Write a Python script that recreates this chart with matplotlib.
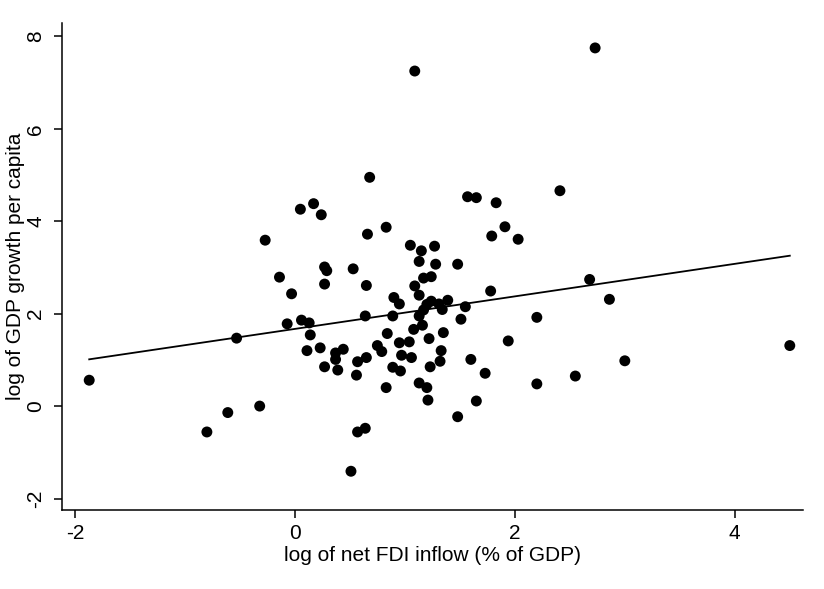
import numpy as np
import matplotlib
matplotlib.use("Agg")
import matplotlib.pyplot as plt

plt.rcParams['font.family'] = ['Liberation Sans', 'DejaVu Sans']
plt.rcParams['axes.unicode_minus'] = False

# log of net FDI inflow (% of GDP)
fdi = [-1.87, -0.80, -0.61, -0.32, -0.53, -0.07, 0.06, 0.13, 0.14, -0.03,
       -0.14, -0.27, 0.05, 0.17, 0.24, 0.68, 0.66, 0.27, 0.29, 0.53,
       0.27, 0.65, 0.64, 0.11, 0.23, 0.37, 0.44, 0.37, 0.27, 0.39,
       0.57, 0.65, 0.56, 0.75, 0.57, 0.64, 0.51, 1.09, 2.73, 2.41,
       1.57, 1.65, 1.83, 0.83, 1.91, 1.79, 2.03, 1.05, 1.15, 1.27,
       1.13, 1.28, 1.48, 1.17, 1.24, 1.09, 1.13, 0.90, 0.95, 1.78,
       1.24, 1.31, 1.39, 1.55, 0.89, 1.13, 1.17, 1.34, 1.51, 1.08,
       1.16, 0.84, 0.79, 0.95, 1.04, 1.22, 1.35, 1.94, 0.97, 1.06,
       1.33, 1.32, 1.23, 0.89, 0.96, 1.60, 1.73, 0.83, 1.13, 1.20,
       1.21, 1.65, 1.48, 2.20, 2.20, 2.55, 2.68, 2.86, 3.00, 4.50,
       1.20]
# log of GDP growth per capita
growth = [0.56, -0.56, -0.14, 0.00, 1.47, 1.78, 1.86, 1.80, 1.54, 2.43,
          2.79, 3.59, 4.26, 4.38, 4.14, 4.95, 3.72, 3.01, 2.93, 2.97,
          2.64, 2.61, 1.95, 1.20, 1.26, 1.15, 1.23, 1.01, 0.85, 0.78,
          0.96, 1.05, 0.67, 1.31, -0.56, -0.48, -1.41, 7.25, 7.75, 4.66,
          4.53, 4.51, 4.40, 3.87, 3.88, 3.68, 3.61, 3.48, 3.36, 3.46,
          3.13, 3.07, 3.07, 2.77, 2.80, 2.60, 2.40, 2.35, 2.21, 2.49,
          2.27, 2.21, 2.29, 2.15, 1.95, 1.95, 2.08, 2.09, 1.88, 1.66,
          1.75, 1.57, 1.18, 1.37, 1.39, 1.46, 1.59, 1.41, 1.10, 1.05,
          1.20, 0.97, 0.85, 0.84, 0.76, 1.01, 0.71, 0.40, 0.50, 0.40,
          0.13, 0.11, -0.23, 1.92, 0.48, 0.65, 2.74, 2.31, 0.98, 1.31,
          2.20]

# linear fit line
fit_intercept = 1.67
fit_slope = 0.352

xticks = [-2, 0, 2, 4]
yticks = [-2, 0, 2, 4, 6, 8]

fig = plt.figure(figsize=(8.24, 5.89), dpi=100)
ax = fig.add_axes([0.0749, 0.134, 0.8996, 0.827])

ax.scatter(fdi, growth, s=62, color='black', edgecolors='none', zorder=3)
xs = np.array([min(fdi), max(fdi)])
ax.plot(xs, fit_intercept + fit_slope * xs, color='black', lw=1.3, zorder=2)

ax.set_xlim(-2.12, 4.62)
ax.set_ylim(-2.25, 8.29)
ax.set_xticks(xticks)
ax.set_yticks(yticks)

for side in ['top', 'right']:
    ax.spines[side].set_visible(False)
for side in ['left', 'bottom']:
    ax.spines[side].set_linewidth(1.1)

ax.tick_params(direction='out', length=6, width=1.1, labelsize=15)
ax.tick_params(axis='x', pad=4)
ax.tick_params(axis='y', pad=6)
for lab in ax.get_yticklabels():
    lab.set_rotation(90)
    lab.set_va('center')

ax.set_xlabel('log of net FDI inflow (% of GDP)', fontsize=15, labelpad=2)
ax.set_ylabel('log of GDP growth per capita', fontsize=15, labelpad=1)

fig.savefig('out.png', dpi=100, facecolor='white')
